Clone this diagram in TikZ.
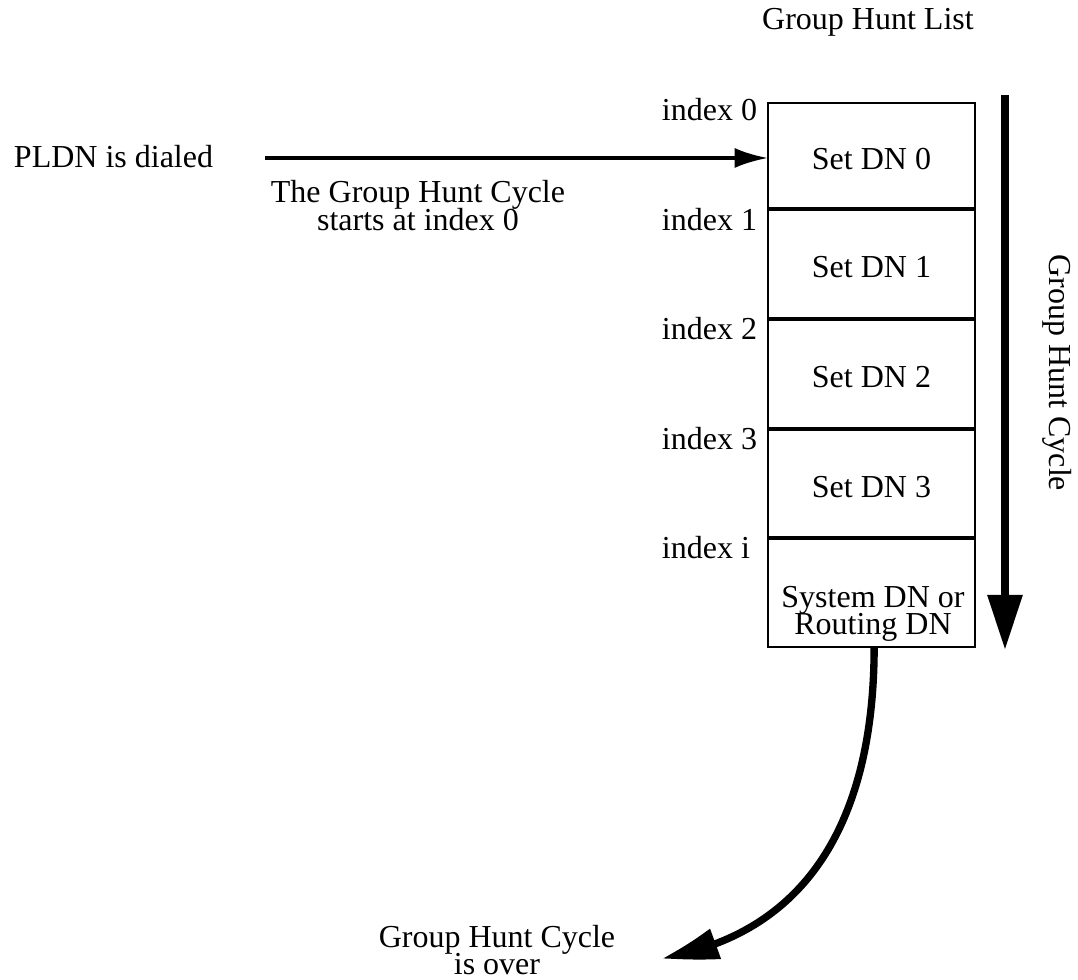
\documentclass[tikz,border=0pt]{standalone}
\usepackage{fontspec}
\setmainfont{Liberation Serif}
\usetikzlibrary{arrows.meta,bending}
% let stacked lines sit closer than their glyph boxes allow
\newcommand\closelines{\lineskiplimit -20pt\relax}
\begin{document}
\begin{tikzpicture}[x=0.3pt,y=-0.3pt,
  every node/.style={font=\fontsize{9.6}{8.2}\selectfont, inner sep=0pt, outer sep=0pt},
  tight/.style={align=center, font={\fontsize{9.6}{#1}\selectfont\closelines}},
  cell/.style={draw, line width=0.6pt, minimum width=62.1pt, anchor=north west,
    text height=8.4pt, text depth=0pt},
  idx/.style={anchor=base west},
  thinarrow/.style={line width=1.1pt, -{Latex[length=10pt,width=6pt]}},
  cyclearrow/.style={line width=2.4pt, -{Triangle[length=16.5pt,width=10pt]}},
  exitarrow/.style={line width=2.2pt, -{Triangle[length=17pt,width=9pt,bend]}}]
\useasboundingbox (0,0) rectangle (1078,980);

% heading and side label
\node[anchor=base] (listhead) at (868,30) {Group Hunt List};
\node[rotate=-90] (cyclelbl) at (1057,373) {Group Hunt Cycle};

% the hunt list cells
\node[cell, minimum height=31.5pt] (c0) at (768,103) {Set DN 0};
\node[cell, minimum height=32.4pt] (c1) at (768,210) {Set DN 1};
\node[cell, minimum height=32.4pt] (c2) at (768,320) {Set DN 2};
\node[cell, minimum height=32.1pt] (c3) at (768,430) {Set DN 3};
\node[cell, minimum height=32.4pt] (c4) at (768,539) {};
\node[tight=8.2pt] (c4txt) at (873,614) {System DN or\\Routing DN};

% index labels
\node[idx] (i0) at (662,121) {index 0};
\node[idx] (i1) at (662,231) {index 1};
\node[idx] (i2) at (662,340) {index 2};
\node[idx] (i3) at (662,450) {index 3};
\node[idx] (ii) at (662,559) {index i};

% incoming call
\node[anchor=base west] (pldn) at (14,168) {PLDN is dialed};
\coordinate (dial) at (265,158);
\draw[thinarrow] (dial) -- (dial -| c0.west);
\node[tight=8.4pt] (startlbl) at (418,206) {The Group Hunt Cycle\\starts at index 0};

% hunt direction
\coordinate (cyctop) at (1005,95);
\coordinate (cycend) at (1005,650);
\draw[cyclearrow] (cyctop) -- (cycend);

% end of cycle
\coordinate (over) at (662,958);
\draw[exitarrow] ([xshift=0.8pt]c4.south) .. controls (874,830) and (800,935) .. (over);
\node[tight=8.2pt] (overlbl) at (497,950) {Group Hunt Cycle\\is over};
\end{tikzpicture}
\end{document}
